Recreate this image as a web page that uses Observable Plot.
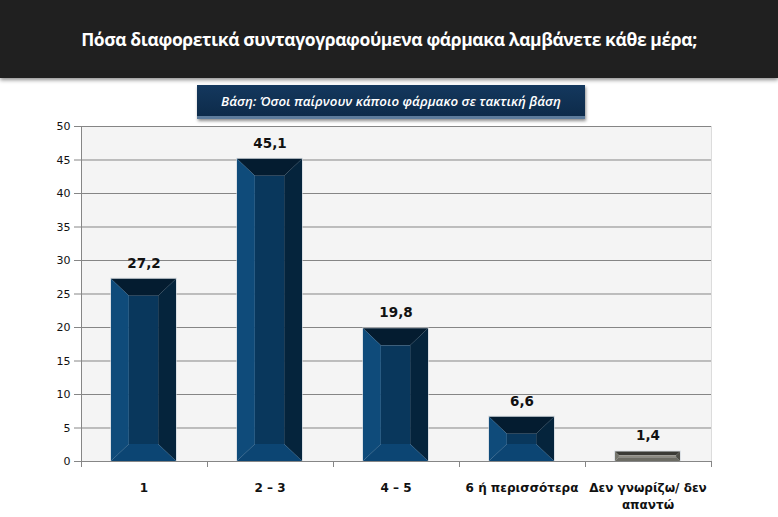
<!DOCTYPE html>
<html><head><meta charset="utf-8">
<script src="https://cdn.jsdelivr.net/npm/d3@7"></script>
<script src="https://cdn.jsdelivr.net/npm/@observablehq/plot@0.6"></script>
<style>
body{margin:0;width:778px;height:517px;position:relative;background:#fff;overflow:hidden;font-family:"DejaVu Sans",sans-serif}
#hdr{position:absolute;left:0;top:0;width:778px;height:78px;background:#202020;box-shadow:0 2px 4px rgba(0,0,0,.45);color:#fff;font:bold 17.5px "Open Sans",sans-serif;display:flex;align-items:center;justify-content:center;letter-spacing:-0.4px}
#sub{position:absolute;left:197px;top:85px;width:388px;height:31px;background:linear-gradient(#14385e,#0d2b4a);border-bottom:3px solid #5d7c9c;color:#fff;font:italic 600 13.3px "Open Sans",sans-serif;display:flex;align-items:center;justify-content:center;box-shadow:1px 2px 3px rgba(0,0,0,.45)}
#chart{position:absolute;left:0;top:110px}
</style></head><body>
<div id="hdr">Πόσα διαφορετικά συνταγογραφούμενα φάρμακα λαμβάνετε κάθε μέρα;</div>
<div id="sub">Βάση: Όσοι παίρνουν κάποιο φάρμακο σε τακτική βάση</div>
<div id="chart"></div>
<script>
const categories = ["1", "2 – 3", "4 – 5", "6 ή περισσότερα", "Δεν γνωρίζω/ δεν απαντώ"];
const values = [27.2, 45.1, 19.8, 6.6, 1.4];
const yTicks = [0, 5, 10, 15, 20, 25, 30, 35, 40, 45, 50];
const greyCategory = "Δεν γνωρίζω/ δεν απαντώ";

const data = categories.map((c, i) => ({cat: c, value: values[i], label: String(values[i]).replace(".", ",")}));

const blue = {top: "#041c30", left: "#0f4b7a", right: "#05243c", bottom: "#0c4573", face: "#09375c"};
const grey = {top: "#3a3a35", left: "#75756c", right: "#4e4e47", bottom: "#6c6c64", face: "#8d8b81"};

function bevelRender(index, scales, values, dims) {
  const {x, y} = scales;
  const bw = typeof x.bandwidth === "function" ? x.bandwidth() : x.bandwidth;
  const g = d3.create("svg:g");
  for (const i of index) {
    const d = data[i];
    const c = d.cat === greyCategory ? grey : blue;
    const x0 = x(d.cat), x1 = x0 + bw, yt = y(d.value), yb = y(0);
    const h = yb - yt;
    const bv = Math.min(17, h * 0.4), bh = Math.min(18, bv * 1.05);
    const poly = (pts, fill) => g.append("polygon").attr("points", pts.map(p => p.join(",")).join(" ")).attr("fill", fill);
    g.append("rect").attr("x", x0 - 1).attr("y", yt - 1).attr("width", bw + 2).attr("height", h + 1).attr("fill", "#c9d2da").attr("opacity", 0.6);
    poly([[x0, yt], [x1, yt], [x1 - bh, yt + bv], [x0 + bh, yt + bv]], c.top);
    poly([[x0, yt], [x0 + bh, yt + bv], [x0 + bh, yb - bv], [x0, yb]], c.left);
    poly([[x1, yt], [x1, yb], [x1 - bh, yb - bv], [x1 - bh, yt + bv]], c.right);
    poly([[x0, yb], [x0 + bh, yb - bv], [x1 - bh, yb - bv], [x1, yb]], c.bottom);
    g.append("rect").attr("x", x0 + bh).attr("y", yt + bv).attr("width", Math.max(0, bw - 2 * bh)).attr("height", Math.max(0, h - 2 * bv)).attr("fill", c.face);
  }
  return g.node();
}

function axesRender(index, scales, values, dims) {
  const {x} = scales;
  const bw = typeof x.bandwidth === "function" ? x.bandwidth() : x.bandwidth;
  const step = x(categories[1]) - x(categories[0]);
  const gap = (step - bw) / 2;
  const g = d3.create("svg:g").attr("stroke", "#868686").attr("stroke-width", 1);
  const yb = dims.height - dims.marginBottom;
  g.append("line").attr("x1", dims.marginLeft + 0.5).attr("x2", dims.marginLeft + 0.5).attr("y1", dims.marginTop).attr("y2", yb + 6);
  const bounds = categories.map(c => x(c) - gap).concat([x(categories[categories.length - 1]) + bw + gap]);
  for (const b of bounds) {
    g.append("line").attr("x1", Math.round(b) + 0.5).attr("x2", Math.round(b) + 0.5).attr("y1", yb).attr("y2", yb + 6);
  }
  g.append("line").attr("x1", dims.marginLeft).attr("x2", dims.width - dims.marginRight).attr("y1", yb + 0.5).attr("y2", yb + 0.5);
  return g.node();
}

const chart = Plot.plot({
  width: 778,
  height: 407,
  marginTop: 16,
  marginBottom: 56,
  marginLeft: 81,
  marginRight: 67,
  style: {fontFamily: "DejaVu Sans, sans-serif", background: "transparent", color: "#111"},
  x: {domain: categories, paddingInner: 0.484, paddingOuter: 0.242, label: null},
  y: {domain: [0, 50], label: null},
  marks: [
    Plot.frame({fill: "#f4f4f4", stroke: "#dcdcdc"}),
    Plot.gridY(yTicks, {stroke: "#858585", strokeOpacity: 1}),
    Plot.axisY(yTicks, {tickSize: 7, tickPadding: 4, fontSize: 11, stroke: "#868686", fill: "#111"}),
    Plot.axisX({tickSize: 0, tickPadding: 19, fontSize: 12, fontWeight: "bold", lineHeight: 1.4, fill: "#111",
      tickFormat: d => d.replace("δεν απαντώ", "δεν\nαπαντώ")}),
    Plot.barY(data, {x: "cat", y: "value", render: bevelRender}),
    Plot.barY(data, {x: "cat", y: "value", render: axesRender}),
    Plot.text(data, {x: "cat", y: "value", text: "label", dy: -16, fontSize: 13.5, fontWeight: "bold", fill: "#111"})
  ]
});
document.getElementById("chart").appendChild(chart);
</script>
</body></html>
